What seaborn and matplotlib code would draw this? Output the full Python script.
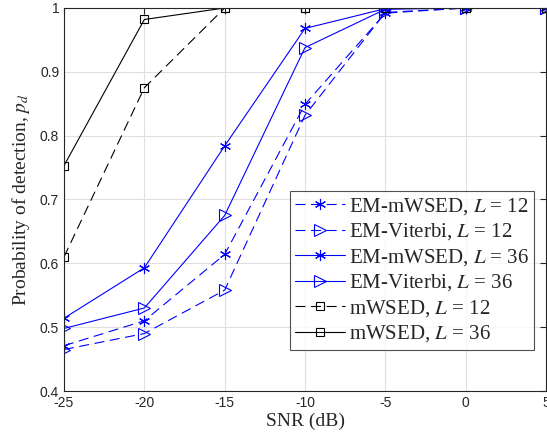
import numpy as np
import pandas as pd
import matplotlib
matplotlib.use('Agg')
import matplotlib.pyplot as plt
import seaborn as sns

# SNR grid and detection probabilities
snr = [-25, -20, -15, -10, -5, 0, 5]
em_mwsed_12 = [0.471, 0.510, 0.614, 0.849, 0.992, 1.0, 1.0]
em_viterbi_12 = [0.465, 0.490, 0.558, 0.832, 0.993, 1.0, 1.0]
em_mwsed_36 = [0.514, 0.593, 0.784, 0.968, 0.999, 1.0, 1.0]
em_viterbi_36 = [0.498, 0.530, 0.675, 0.938, 0.998, 1.0, 1.0]
mwsed_12 = [0.610, 0.875, 1.0, 1.0, 1.0, 1.0, 1.0]
mwsed_36 = [0.753, 0.982, 1.0, 1.0, 1.0, 1.0, 1.0]

labels = ['EM-mWSED, $L$ = 12', 'EM-Viterbi, $L$ = 12', 'EM-mWSED, $L$ = 36',
          'EM-Viterbi, $L$ = 36', 'mWSED, $L$ = 12', 'mWSED, $L$ = 36']

sns.set_style('white')
plt.rcParams['font.family'] = ['Liberation Serif', 'DejaVu Serif']
plt.rcParams['mathtext.fontset'] = 'stix'
plt.rcParams['axes.unicode_minus'] = False

fig = plt.figure(figsize=(5.47, 4.44), dpi=100)
ax = fig.add_axes([64 / 547, 53 / 444, 482 / 547, 383 / 444])

dash = (0, (9, 5))
star = (6, 2, 0)  # MATLAB-like asterisk
series = [em_mwsed_12, em_viterbi_12, em_mwsed_36, em_viterbi_36, mwsed_12, mwsed_36]
styles = [('blue', dash, star, 8),
          ('blue', dash, '>', 8),
          ('blue', '-', star, 8),
          ('blue', '-', '>', 8),
          ('black', dash, 's', 6),
          ('black', '-', 's', 6)]

for vals, lab, (c, ls, m, ms) in zip(series, labels, styles):
    sns.lineplot(x=snr, y=vals, ax=ax, color=c, linestyle=ls, marker=m,
                 markersize=ms, markerfacecolor='none', markeredgecolor=c,
                 markeredgewidth=0.8, linewidth=0.8, label=lab)

ax.set_xlim(-25, 5)
ax.set_ylim(0.4, 1.0)
ax.set_xticks(snr)
ax.set_yticks([0.4, 0.5, 0.6, 0.7, 0.8, 0.9, 1.0])
ax.set_yticklabels(['0.4', '0.5', '0.6', '0.7', '0.8', '0.9', '1'])
for t in ax.get_xticklabels() + ax.get_yticklabels():
    t.set_fontfamily('Liberation Sans')
    t.set_fontsize(10)
ax.grid(True, color='#e0e0e0', linewidth=0.8)
ax.set_axisbelow(True)
ax.tick_params(direction='in', length=4, width=0.8, top=True, right=True,
               colors='#262626')
for s in ax.spines.values():
    s.set_color('#262626')
    s.set_linewidth(0.8)

ax.set_xlabel('SNR (dB)', fontsize=14, labelpad=2)
ax.set_ylabel('Probability of detection, $p_d$', fontsize=14, labelpad=6)

leg = ax.legend(loc='lower right', bbox_to_anchor=(0.976, 0.108), fontsize=15,
                frameon=True, fancybox=False, edgecolor='#262626',
                handlelength=2.4, handletextpad=0.2, labelspacing=0.22,
                borderpad=0.25, borderaxespad=0)
leg.get_frame().set_linewidth(0.8)

fig.savefig('out.png', dpi=100)
